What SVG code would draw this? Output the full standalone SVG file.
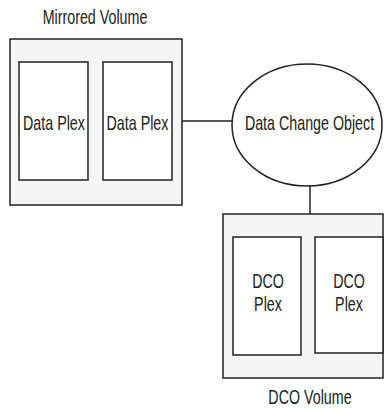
<svg xmlns="http://www.w3.org/2000/svg" width="386" height="409" viewBox="0 0 386 409">
<style>
.vol{fill:#f5f5f5;stroke:#222;stroke-width:1.5}
.plex{fill:#fff;stroke:#222;stroke-width:1.5}
.t{font-family:"Liberation Sans",Arial,sans-serif;font-size:21px;fill:#222;text-anchor:middle}
.c{stroke:#222;stroke-width:1.5;fill:none}
</style>
<rect width="386" height="409" fill="#fff"/>
<g id="mirrored-volume">
<rect class="vol" x="10" y="39" width="172" height="166"/>
<text class="t" transform="translate(95,24) scale(0.68,1)">Mirrored Volume</text>
</g>
<g id="data-plex-1">
<rect class="plex" x="19" y="62" width="69" height="118"/>
<text class="t" transform="translate(54,130) scale(0.68,1)">Data Plex</text>
</g>
<g id="data-plex-2">
<rect class="plex" x="103" y="62" width="69" height="118"/>
<text class="t" transform="translate(137.5,130) scale(0.68,1)">Data Plex</text>
</g>
<g id="connectors">
<line class="c" x1="182" y1="121" x2="232" y2="121"/>
<line class="c" x1="310" y1="186" x2="310" y2="214"/>
</g>
<g id="data-change-object">
<ellipse cx="307" cy="125" rx="75" ry="61" fill="#fff" stroke="#222" stroke-width="1.5"/>
<text class="t" transform="translate(309.5,130) scale(0.68,1)">Data Change Object</text>
</g>
<g id="dco-volume">
<rect class="vol" x="223" y="214" width="160" height="164"/>
<text class="t" transform="translate(310,404) scale(0.68,1)">DCO Volume</text>
</g>
<g id="dco-plex-1">
<rect class="plex" x="233" y="237" width="68" height="118"/>
<text class="t" transform="translate(268,288) scale(0.68,1)">DCO</text>
<text class="t" transform="translate(268,311) scale(0.68,1)">Plex</text>
</g>
<g id="dco-plex-2">
<rect class="plex" x="315" y="237" width="68" height="116"/>
<text class="t" transform="translate(349,288) scale(0.68,1)">DCO</text>
<text class="t" transform="translate(349,311) scale(0.68,1)">Plex</text>
</g>
</svg>
